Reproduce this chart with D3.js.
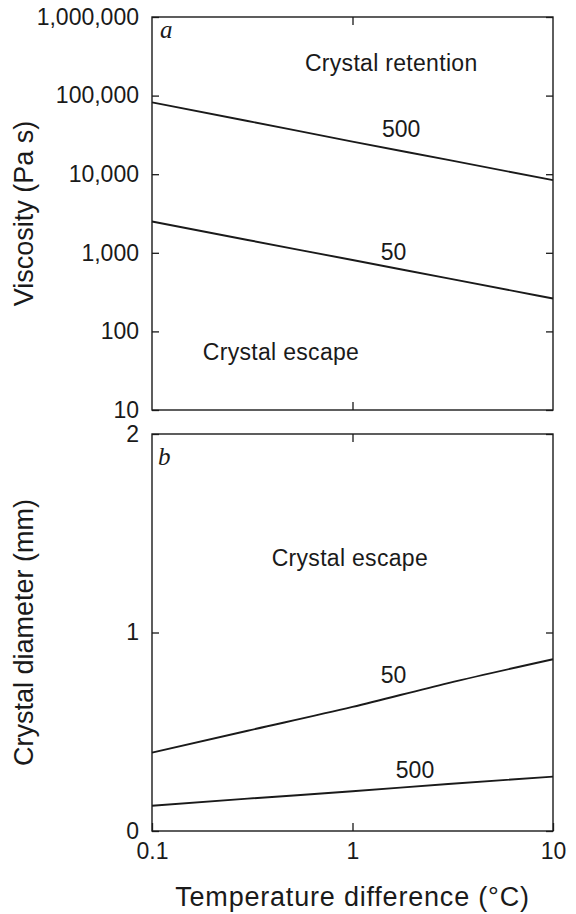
<!DOCTYPE html>
<html>
<head>
<meta charset="utf-8">
<script src="https://cdn.jsdelivr.net/npm/d3@7"></script>
<style>
  html, body { margin: 0; padding: 0; background: #fff; }
  svg { display: block; }
  text { font-family: "Liberation Sans", Arial, Helvetica, sans-serif; fill: #1a1a1a; }
</style>
</head>
<body>
<svg id="chart" width="576" height="914"></svg>
<script>
// ---- data ----
const tempDiff = [0.1, 0.3, 1, 3, 10];                 // °C
const visc500 = [82000, 47500, 26000, 15200, 8400];    // Pa s, 500 curve (panel a)
const visc50  = [2500, 1455, 810, 472, 262];           // Pa s, 50 curve (panel a)
const diam50  = [0.395, 0.505, 0.625, 0.745, 0.865];   // mm, 50 curve (panel b)
const diam500 = [0.127, 0.163, 0.200, 0.237, 0.274];   // mm, 500 curve (panel b)

const xTicks = [0.1, 1, 10];
const xTickLabels = ["0.1", "1", "10"];
const viscTicks = [10, 100, 1000, 10000, 100000, 1000000];
const viscTickLabels = ["10", "100", "1,000", "10,000", "100,000", "1,000,000"];
const diamTicks = [0, 1, 2];
const diamTickLabels = ["0", "1", "2"];

// ---- layout ----
const svg = d3.select("#chart");
const left = 152, right = 553;
const topA = 17, botA = 410;
const topB = 434, botB = 831;
const ink = "#1a1a1a";

const x = d3.scaleLog().domain([0.1, 10]).range([left, right]);
const yA = d3.scaleLog().domain([10, 1000000]).range([botA, topA]);
const yB = d3.scaleLinear().domain([0, 2]).range([botB, topB]);

function styleAxis(g) {
  g.select(".domain").remove();
  g.selectAll(".tick line").attr("stroke", ink).attr("stroke-width", 1.3);
  g.selectAll(".tick text").style("font-size", "23px").attr("fill", ink);
}

function panel(yScale, yTop, yBot, yTicks, yLabels, showX) {
  svg.append("rect")
    .attr("x", left).attr("y", yTop)
    .attr("width", right - left).attr("height", yBot - yTop)
    .attr("fill", "none").attr("stroke", ink).attr("stroke-width", 1.4);

  const labelOf = new Map(yTicks.map((v, i) => [v, yLabels[i]]));

  svg.append("g").attr("transform", `translate(${left},0)`)
    .call(d3.axisLeft(yScale).tickValues(yTicks).tickFormat(d => labelOf.get(d))
      .tickSizeInner(-7).tickSizeOuter(0).tickPadding(13))
    .call(styleAxis);
  svg.append("g").attr("transform", `translate(${right},0)`)
    .call(d3.axisRight(yScale).tickValues(yTicks).tickFormat("")
      .tickSizeInner(-7).tickSizeOuter(0))
    .call(styleAxis);
  svg.append("g").attr("transform", `translate(0,${yTop})`)
    .call(d3.axisTop(x).tickValues([1]).tickFormat("")
      .tickSizeInner(-8).tickSizeOuter(0))
    .call(styleAxis);
  const xlab = new Map(xTicks.map((v, i) => [v, xTickLabels[i]]));
  svg.append("g").attr("transform", `translate(0,${yBot})`)
    .call(d3.axisBottom(x).tickValues(showX ? xTicks : [1])
      .tickFormat(showX ? (d => xlab.get(d)) : "")
      .tickSizeInner(-8).tickSizeOuter(0).tickPadding(12))
    .call(styleAxis);
}

panel(yA, topA, botA, viscTicks, viscTickLabels, false);
panel(yB, topB, botB, diamTicks, diamTickLabels, true);

// ---- curves ----
function curve(yScale, ys) {
  const line = d3.line()
    .x((d, i) => x(tempDiff[i]))
    .y(d => yScale(d))
    .curve(d3.curveMonotoneX);
  svg.append("path").datum(ys)
    .attr("d", line)
    .attr("fill", "none").attr("stroke", ink).attr("stroke-width", 1.9);
}
curve(yA, visc500);
curve(yA, visc50);
curve(yB, diam50);
curve(yB, diam500);

// ---- annotations ----
function label(txt, px, py, size, opts = {}) {
  const t = svg.append("text").attr("x", px).attr("y", py)
    .attr("text-anchor", opts.anchor || "middle")
    .style("font-size", size + "px")
    .text(txt);
  if (opts.italic) t.style("font-family", "'Liberation Serif', 'Times New Roman', serif").style("font-style", "italic");
  if (opts.ls) t.style("letter-spacing", opts.ls + "px");
  return t;
}

label("a", 160, 38, 25, { anchor: "start", italic: true });
label("b", 158, 465, 25, { anchor: "start", italic: true });

label("Crystal retention", x(1.56), 71, 23, { ls: 0.3 });
label("500", x(1.75), 137, 23);
label("50", x(1.6), 260, 23);
label("Crystal escape", x(0.44), 360, 23, { ls: 0.3 });

label("Crystal escape", x(0.97), 566, 23, { ls: 0.3 });
label("50", x(1.6), 683, 23);
label("500", x(2.05), 778, 23);

// axis titles
svg.append("text")
  .attr("transform", `translate(33,${(topA + botA) / 2}) rotate(-90)`)
  .attr("text-anchor", "middle")
  .style("font-size", "27px")
  .text("Viscosity (Pa s)");
svg.append("text")
  .attr("transform", `translate(33,${(topB + botB) / 2}) rotate(-90)`)
  .attr("text-anchor", "middle")
  .style("font-size", "27px")
  .text("Crystal diameter (mm)");
svg.append("text")
  .attr("x", (left + right) / 2).attr("y", 906)
  .attr("text-anchor", "middle")
  .style("font-size", "27px")
  .style("letter-spacing", "0.8px")
  .text("Temperature difference (°C)");
</script>
</body>
</html>
